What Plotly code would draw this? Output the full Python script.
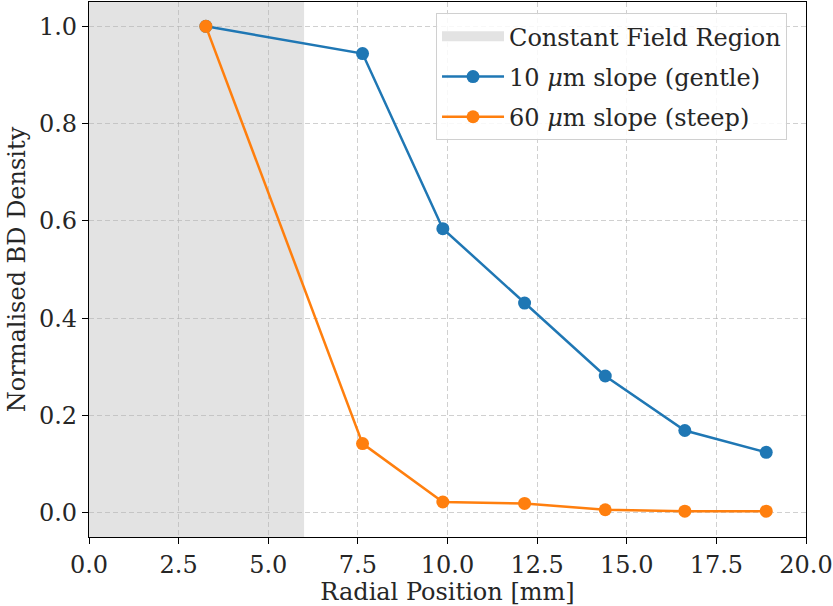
import plotly.graph_objects as go

x_positions = [3.26, 7.63, 9.87, 12.15, 14.40, 16.62, 18.89]
gentle_10um = [1.0, 0.944, 0.584, 0.431, 0.281, 0.169, 0.124]
steep_60um = [1.0, 0.142, 0.022, 0.019, 0.006, 0.003, 0.003]
region_start, region_end = 0.0, 6.0
x_ticks = [0, 2.5, 5, 7.5, 10, 12.5, 15, 17.5, 20]
x_tick_labels = ["0.0", "2.5", "5.0", "7.5", "10.0", "12.5", "15.0", "17.5", "20.0"]
y_ticks = [0, 0.2, 0.4, 0.6, 0.8, 1.0]
y_tick_labels = ["0.0", "0.2", "0.4", "0.6", "0.8", "1.0"]

FONT = "DejaVu Serif"
FS = 24
TXT = "#262626"
REGION_COLOR = "#e3e3e3"

fig = go.Figure()
fig.add_vrect(x0=region_start, x1=region_end, fillcolor=REGION_COLOR, opacity=1,
              line_width=0, layer="below")
# legend entry for the shaded region
fig.add_trace(go.Scatter(x=[None], y=[None], mode="lines",
                         line=dict(width=16, color=REGION_COLOR),
                         name="Constant Field Region", legendgroup="r"))
fig.add_trace(go.Scatter(x=x_positions, y=gentle_10um, mode="lines+markers",
                         name="10 <i>μ</i>m slope (gentle)", legendgroup="g",
                         line=dict(color="#1f77b4", width=2.5),
                         marker=dict(size=13, color="#1f77b4")))
fig.add_trace(go.Scatter(x=x_positions, y=steep_60um, mode="lines+markers",
                         name="60 <i>μ</i>m slope (steep)", legendgroup="s",
                         line=dict(color="#ff7f0e", width=2.5),
                         marker=dict(size=13, color="#ff7f0e")))

axis_common = dict(showline=True, linecolor="black", linewidth=1.3, mirror=True,
                   ticks="outside", ticklen=6, tickwidth=1.3, tickcolor="black",
                   showgrid=True, gridcolor="rgba(176,176,176,0.6)", griddash="5px,3px",
                   gridwidth=1, zeroline=False, automargin=False,
                   tickfont=dict(family=FONT, size=FS, color=TXT))

fig.update_xaxes(range=[0, 20], tickvals=x_ticks, ticktext=x_tick_labels,
                 title=dict(text="Radial Position [mm]", font=dict(family=FONT, size=FS, color=TXT),
                            standoff=5), **axis_common)
fig.update_yaxes(range=[-0.05, 1.05], tickvals=y_ticks, ticktext=y_tick_labels,
                 title=dict(text="Normalised BD Density", font=dict(family=FONT, size=FS, color=TXT),
                            standoff=6), **axis_common)

fig.update_layout(
    width=833, height=606,
    margin=dict(l=89, r=27, t=2, b=69),
    plot_bgcolor="white", paper_bgcolor="white",
    font=dict(family=FONT, size=FS, color=TXT),
    legend=dict(x=0.484, y=0.979, xanchor="left", yanchor="top",
                bgcolor="rgba(255,255,255,0.85)", bordercolor="#d0d0d0", borderwidth=1,
                font=dict(family=FONT, size=FS, color=TXT), tracegroupgap=6,
                itemwidth=62),
    showlegend=True,
)

fig.write_html("out.html", post_script="document.body.style.margin='0';",
               config={"displayModeBar": False})
